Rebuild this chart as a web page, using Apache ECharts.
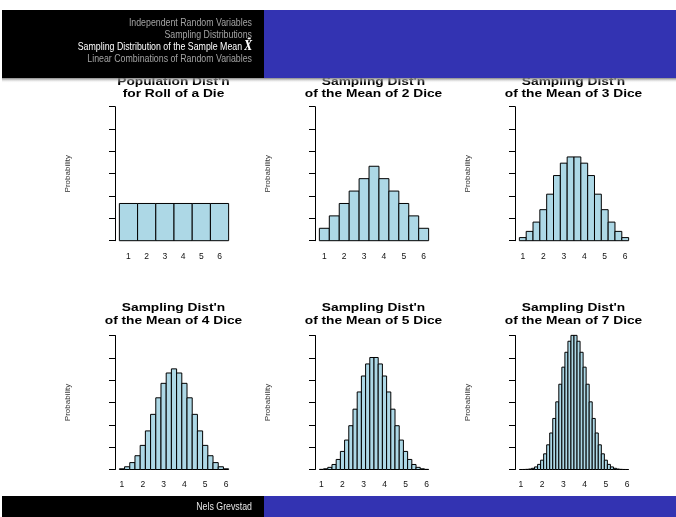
<!DOCTYPE html>
<html>
<head>
<meta charset="utf-8">
<script src="https://cdn.jsdelivr.net/npm/echarts@6/dist/echarts.min.js"></script>
<style>html,body{margin:0;padding:0;background:#fff}#c{width:676px;height:517px}</style>
</head>
<body>
<div id="c"></div>
<script>
// ---- data ----
var titles = [
  "Population Dist'n\nfor Roll of a Die",
  "Sampling Dist'n\nof the Mean of 2 Dice",
  "Sampling Dist'n\nof the Mean of 3 Dice",
  "Sampling Dist'n\nof the Mean of 4 Dice",
  "Sampling Dist'n\nof the Mean of 5 Dice",
  "Sampling Dist'n\nof the Mean of 7 Dice"
];
var diceCounts = [1, 2, 3, 4, 5, 7];
var xTickLabels = [1, 2, 3, 4, 5, 6];

var means1 = [1, 2, 3, 4, 5, 6];
var dens1  = [0.1667, 0.1667, 0.1667, 0.1667, 0.1667, 0.1667];

var means2 = [1, 1.5, 2, 2.5, 3, 3.5, 4, 4.5, 5, 5.5, 6];
var dens2  = [0.0556, 0.1111, 0.1667, 0.2222, 0.2778, 0.3333, 0.2778, 0.2222, 0.1667, 0.1111, 0.0556];

var means3 = [1, 1.3333, 1.6667, 2, 2.3333, 2.6667, 3, 3.3333, 3.6667, 4, 4.3333, 4.6667, 5, 5.3333, 5.6667, 6];
var dens3  = [0.0139, 0.0417, 0.0833, 0.1389, 0.2083, 0.2917, 0.3472, 0.375, 0.375, 0.3472, 0.2917, 0.2083, 0.1389, 0.0833, 0.0417, 0.0139];

var means4 = [1, 1.25, 1.5, 1.75, 2, 2.25, 2.5, 2.75, 3, 3.25, 3.5, 3.75, 4, 4.25, 4.5, 4.75, 5, 5.25, 5.5, 5.75, 6];
var dens4  = [0.0031, 0.0123, 0.0309, 0.0617, 0.1080, 0.1728, 0.2469, 0.3210, 0.3858, 0.4321, 0.4506, 0.4321, 0.3858, 0.3210, 0.2469, 0.1728, 0.1080, 0.0617, 0.0309, 0.0123, 0.0031];

var means5 = [1, 1.2, 1.4, 1.6, 1.8, 2, 2.2, 2.4, 2.6, 2.8, 3, 3.2, 3.4, 3.6, 3.8, 4, 4.2, 4.4, 4.6, 4.8, 5, 5.2, 5.4, 5.6, 5.8, 6];
var dens5  = [0.0006, 0.0032, 0.0096, 0.0225, 0.0450, 0.0810, 0.1318, 0.1961, 0.2701, 0.3472, 0.4186, 0.4726, 0.5015, 0.5015, 0.4726, 0.4186, 0.3472, 0.2701, 0.1961, 0.1318, 0.0810, 0.0450, 0.0225, 0.0096, 0.0032, 0.0006];

var means7 = [1, 1.1429, 1.2857, 1.4286, 1.5714, 1.7143, 1.8571, 2, 2.1429, 2.2857, 2.4286, 2.5714, 2.7143, 2.8571, 3, 3.1429, 3.2857, 3.4286, 3.5714, 3.7143, 3.8571, 4, 4.1429, 4.2857, 4.4286, 4.5714, 4.7143, 4.8571, 5, 5.1429, 5.2857, 5.4286, 5.5714, 5.7143, 5.8571, 6];
var dens7  = [0.00003, 0.0002, 0.0007, 0.0021, 0.0053, 0.0116, 0.0229, 0.0417, 0.0702, 0.1105, 0.1635, 0.2286, 0.3030, 0.3818, 0.4583, 0.5249, 0.5743, 0.6006, 0.6006, 0.5743, 0.5249, 0.4583, 0.3818, 0.3030, 0.2286, 0.1635, 0.1105, 0.0702, 0.0417, 0.0229, 0.0116, 0.0053, 0.0021, 0.0007, 0.0002, 0.00003];

var navItems = [
  "Independent Random Variables",
  "Sampling Distributions",
  "Sampling Distribution of the Sample Mean ",
  "Linear Combinations of Random Variables"
];
var footerText = "Nels Grevstad";

// ---- layout ----
var allMeans = [means1, means2, means3, means4, means5, means7];
var allDens = [dens1, dens2, dens3, dens4, dens5, dens7];
var SANS = "'Liberation Sans',Arial,Helvetica,sans-serif";

var chart = echarts.init(document.getElementById('c'), null, {renderer: 'canvas'});
var grids = [], xAxes = [], yAxes = [], series = [];
var rowTop = [106.7, 335.5], plotH = 134, colLeft = 115, colStep = 200, plotW = 118;
var titleTop = [75.4, 302.2];
var graphics = [];

for (var i = 0; i < 6; i++) {
  var r = Math.floor(i / 3), c = i % 3;
  var w = 1 / diceCounts[i];
  var lo = 1 - w / 2, hi = 6 + w / 2, ext = 0.04 * (hi - lo);
  grids.push({left: colLeft + c * colStep, top: rowTop[r], width: plotW, height: plotH, containLabel: false});
  xAxes.push({
    type: 'value', gridIndex: i, min: lo - ext, max: hi + ext,
    axisLine: {show: false}, axisTick: {show: false}, splitLine: {show: false},
    axisLabel: {customValues: xTickLabels, margin: 11, color: '#111', fontSize: 8.5, fontFamily: SANS}
  });
  yAxes.push({
    type: 'value', gridIndex: i, min: 0, max: 0.6, interval: 0.1,
    name: 'Probability', nameLocation: 'middle', nameGap: 43, nameRotate: 90,
    nameTextStyle: {color: '#333', fontSize: 8, fontFamily: SANS},
    axisLine: {show: true, lineStyle: {color: '#000', width: 1}},
    axisTick: {show: true, length: 6, inside: false, lineStyle: {color: '#000', width: 1}},
    axisLabel: {show: false}, splitLine: {show: false}
  });
  graphics.push({
    type: 'text', x: 173.5 + c * colStep, y: titleTop[r], scaleX: 1.25, z: 10,
    style: {text: titles[i], align: 'center', verticalAlign: 'top', fontSize: 11, fontWeight: 'bold',
      fill: '#000', fontFamily: SANS, lineHeight: 12.2}
  });
  var data = allMeans[i].map(function (m, k) { return [m, allDens[i][k]]; });
  (function (bw) {
    series.push({
      type: 'custom', xAxisIndex: i, yAxisIndex: i, data: data, clip: false,
      renderItem: function (params, api) {
        var x = api.value(0), y = api.value(1);
        var p0 = api.coord([x - bw / 2, 0]);
        var p1 = api.coord([x + bw / 2, y]);
        return {
          type: 'rect',
          shape: {x: p0[0], y: p1[1], width: p1[0] - p0[0], height: p0[1] - p1[1]},
          style: {fill: '#ADD8E6', stroke: '#000', lineWidth: 1}
        };
      }
    });
  })(w);
}

graphics.push(
  {type: 'rect', shape: {x: 2, y: 10, width: 262, height: 68}, style: {fill: '#000'}, z: 100},
  {type: 'rect', shape: {x: 264, y: 10, width: 412, height: 68}, style: {fill: '#3333B2'}, z: 100},
  {type: 'rect', shape: {x: 2, y: 78, width: 674, height: 5}, z: 100,
    style: {fill: new echarts.graphic.LinearGradient(0, 0, 0, 1, [
      {offset: 0, color: 'rgba(120,120,120,0.9)'}, {offset: 1, color: 'rgba(255,255,255,0)'}])}},
  {type: 'rect', shape: {x: 2, y: 496, width: 262, height: 21}, style: {fill: '#000'}, z: 100},
  {type: 'rect', shape: {x: 264, y: 496, width: 412, height: 21}, style: {fill: '#3333B2'}, z: 100},
  {type: 'text', x: 252, y: 507, scaleX: 0.8, z: 101, style: {text: footerText, align: 'right', verticalAlign: 'middle',
    fill: '#e6e6e6', fontSize: 11, fontFamily: SANS}}
);
var navY = [22.6, 34.8, 47.0, 59.4];
for (var j = 0; j < navItems.length; j++) {
  var active = (j === 2);
  var st = {align: 'right', verticalAlign: 'middle', fontSize: 11, fontFamily: SANS,
    fill: active ? '#ffffff' : '#a3a3a3'};
  if (active) {
    st.text = '{t|' + navItems[j] + '}{m|X\u0304}';
    st.rich = {
      t: {fontSize: 11, fontFamily: SANS, fill: '#ffffff'},
      m: {fontSize: 12, fontFamily: "'DejaVu Serif',serif", fontStyle: 'italic', fontWeight: 'bold', fill: '#ffffff'}
    };
  } else {
    st.text = navItems[j];
  }
  graphics.push({type: 'text', x: 252, y: navY[j], scaleX: 0.8, z: 101, style: st});
}

chart.setOption({
  animation: false,
  backgroundColor: '#fff',
  grid: grids,
  xAxis: xAxes,
  yAxis: yAxes,
  series: series,
  graphic: graphics
});
</script>
</body>
</html>
